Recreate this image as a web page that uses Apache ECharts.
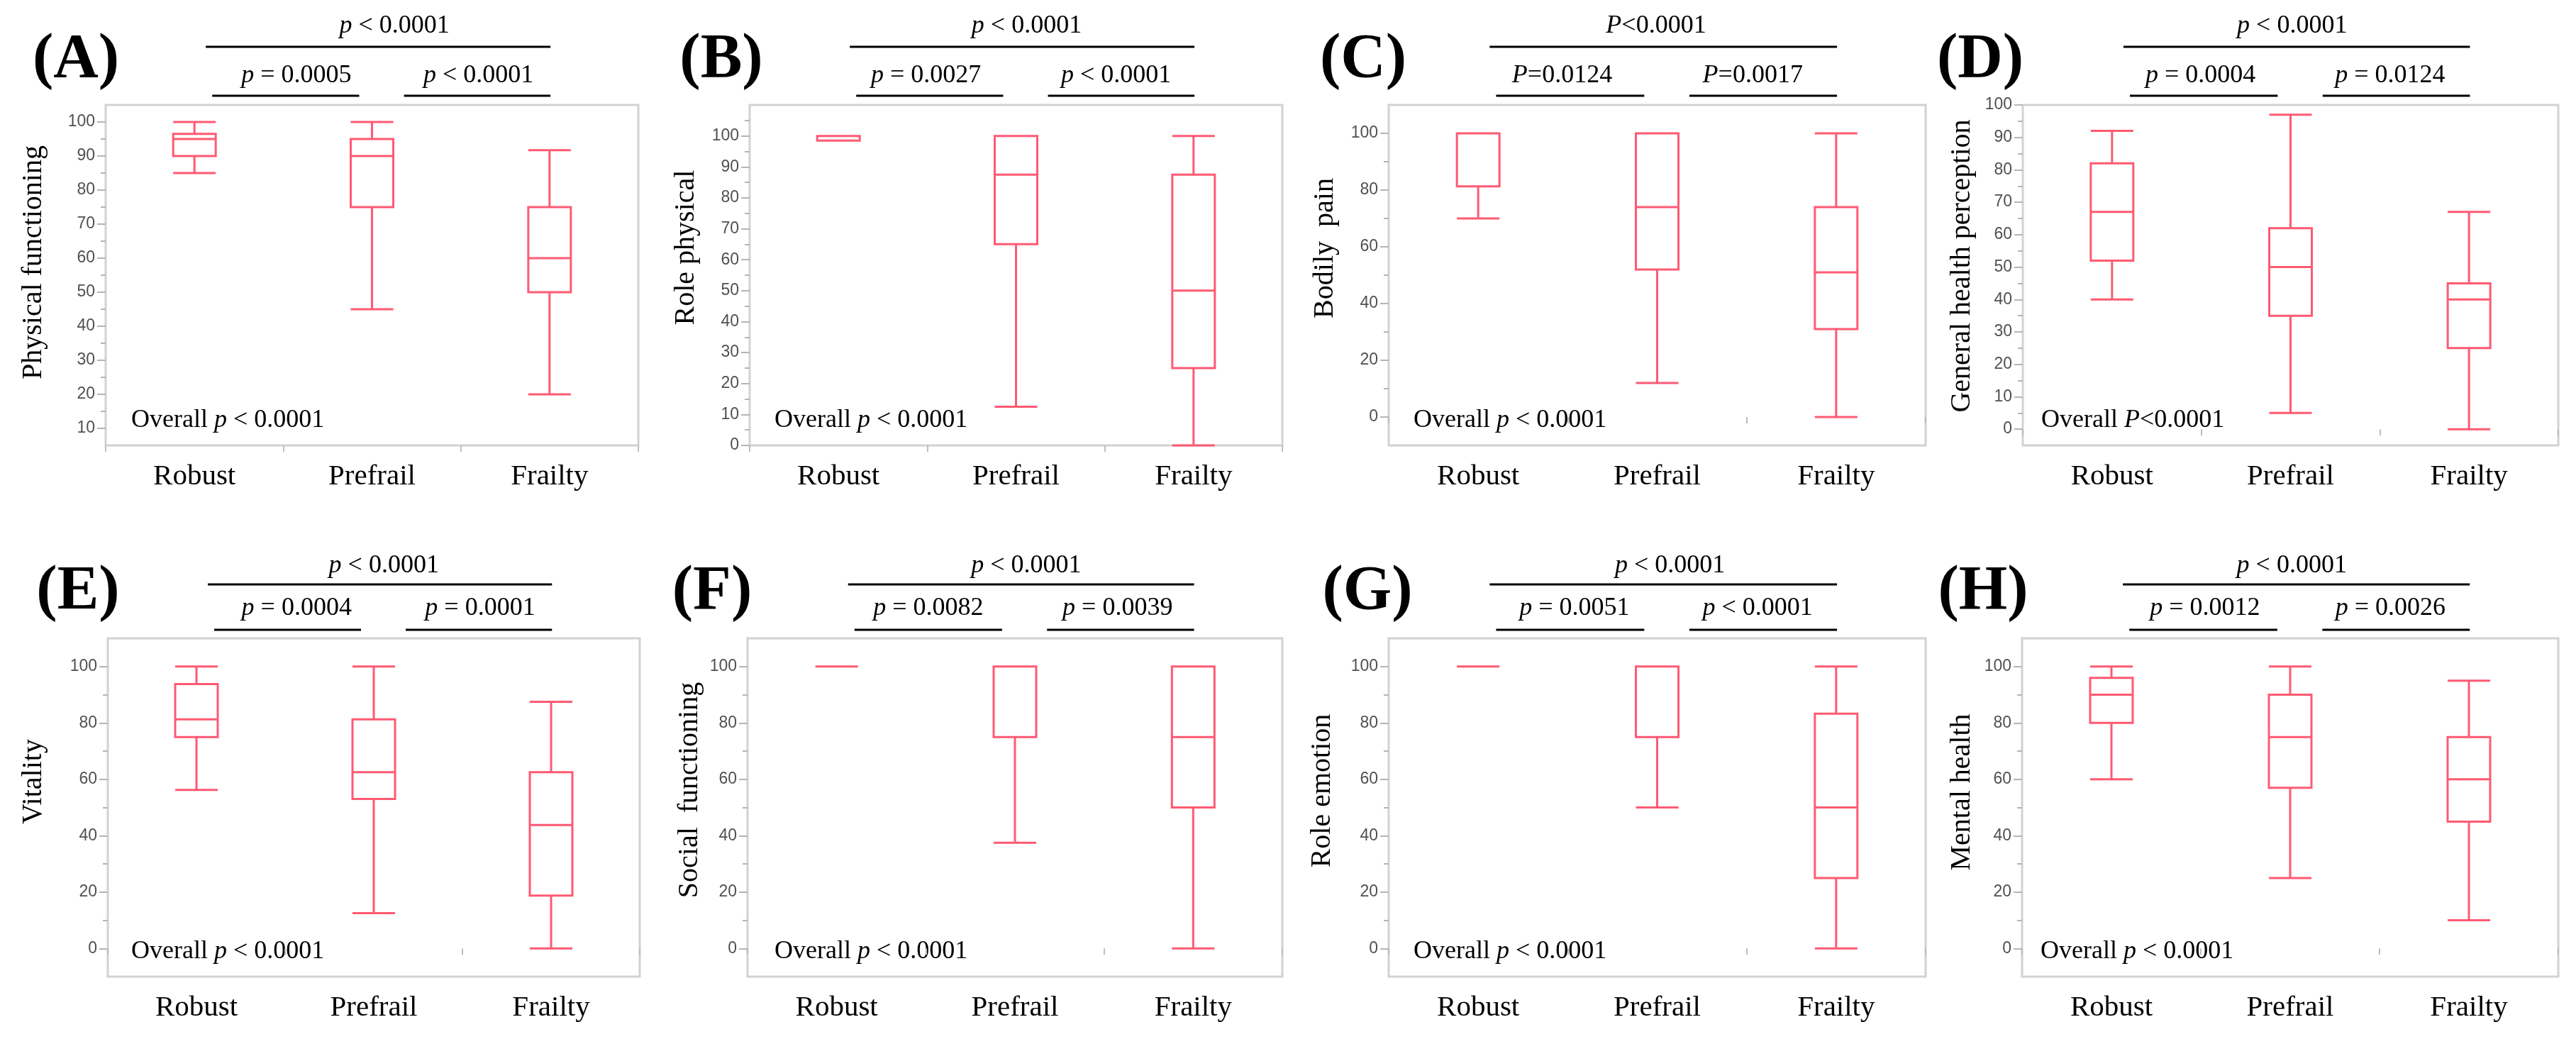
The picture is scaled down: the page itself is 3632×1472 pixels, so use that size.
<!DOCTYPE html>
<html><head><meta charset="utf-8">
<script src="https://cdn.jsdelivr.net/npm/echarts@6/dist/echarts.min.js"></script>
<style>html,body{margin:0;padding:0;background:#fff}#c{width:3632px;height:1472px}</style>
</head><body><div id="c"></div>
<script>
// ---------------- DATA ----------------
const categories = ['Robust', 'Prefrail', 'Frailty'];
// each item: [min, Q1, median, Q3, max]
const physicalFunctioning = [[85, 90, 95, 96.5, 100], [45, 75, 90, 95, 100], [20, 50, 60, 75, 91.7]];
const rolePhysical = [[98.5, 98.5, 100, 100, 100], [12.5, 65, 87.5, 100, 100], [0, 25, 50, 87.5, 100]];
const bodilyPain = [[70, 81.3, 100, 100, 100], [12, 52, 74, 100, 100], [0, 31, 51, 74, 100]];
const generalHealthPerception = [[40, 52, 67, 82, 92], [5, 35, 50, 62, 97], [0, 25, 40, 45, 67]];
const vitality = [[56.25, 75, 81.25, 93.75, 100], [12.5, 53, 62.5, 81.25, 100], [0, 18.75, 43.75, 62.5, 87.5]];
const socialFunctioning = [[100, 100, 100, 100, 100], [37.5, 75, 100, 100, 100], [0, 50, 75, 100, 100]];
const roleEmotion = [[100, 100, 100, 100, 100], [50, 75, 100, 100, 100], [0, 25, 50, 83.3, 100]];
const mentalHealth = [[60, 80, 90, 96, 100], [25, 57, 75, 90, 100], [10, 45, 60, 75, 95]];

const panelLetters = ['(A)', '(B)', '(C)', '(D)', '(E)', '(F)', '(G)', '(H)'];
const yTitles = ['Physical functioning', 'Role physical', 'Bodily  pain', 'General health perception',
                 'Vitality', 'Social  functioning', 'Role emotion', 'Mental health'];
const topP = ['p < 0.0001', 'p < 0.0001', 'P<0.0001', 'p < 0.0001', 'p < 0.0001', 'p < 0.0001', 'p < 0.0001', 'p < 0.0001'];
const robustVsPrefrailP = ['p = 0.0005', 'p = 0.0027', 'P=0.0124', 'p = 0.0004', 'p = 0.0004', 'p = 0.0082', 'p = 0.0051', 'p = 0.0012'];
const prefrailVsFrailtyP = ['p < 0.0001', 'p < 0.0001', 'P=0.0017', 'p = 0.0124', 'p = 0.0001', 'p = 0.0039', 'p < 0.0001', 'p = 0.0026'];
const overallP = ['p < 0.0001', 'p < 0.0001', 'p < 0.0001', 'P<0.0001', 'p < 0.0001', 'p < 0.0001', 'p < 0.0001', 'p < 0.0001'];

// tick labels
const ticksA = [10, 20, 30, 40, 50, 60, 70, 80, 90, 100];
const minorA = [15, 25, 35, 45, 55, 65, 75, 85, 95];
const ticksB = [0, 10, 20, 30, 40, 50, 60, 70, 80, 90, 100];
const minorB = [5, 15, 25, 35, 45, 55, 65, 75, 85, 95, 105];
const ticks20 = [0, 20, 40, 60, 80, 100];
const minor20 = [10, 30, 50, 70, 90];
const ticksD = [0, 10, 20, 30, 40, 50, 60, 70, 80, 90, 100];
const minorD = [5, 15, 25, 35, 45, 55, 65, 75, 85, 95];
const yRanges = [[5, 105], [0, 110], [-10, 110], [-5, 100], [-10, 110], [-10, 110], [-10, 110], [-10, 110]];

const panelData = [physicalFunctioning, rolePhysical, bodilyPain, generalHealthPerception,
                   vitality, socialFunctioning, roleEmotion, mentalHealth];
const panelTicks = [ticksA, ticksB, ticks20, ticksD, ticks20, ticks20, ticks20, ticks20];
const panelMinor = [minorA, minorB, minor20, minorD, minor20, minor20, minor20, minor20];

// ---------------- LAYOUT ----------------
const gridRects = [[149, 148, 751, 480], [1057, 148, 751, 480], [1958, 148, 757, 480], [2852, 148, 755, 480],
                   [152, 900, 750, 477], [1054, 900, 754, 477], [1958, 900, 757, 477], [2851, 900, 756, 477]];
const rowY = [{label: 85, topText: 37, topLine: 66, midText: 107, midLine: 135},
              {label: 835, topText: 798, topLine: 824, midText: 858, midLine: 888}];
const letterX = [107, 1017, 1922, 2792, 110, 1004, 1928, 2796];
const titleXY = [[47, 370], [967, 349], [1868, 350], [2766, 375], [47, 1102], [972, 1114], [1864, 1115], [2766, 1117]];
const topTextFrac = [0.542, 0.52, 0.498, 0.503, 0.519, 0.521, 0.524, 0.503];
const mid1Frac = [0.358, 0.331, 0.323, 0.332, 0.355, 0.338, 0.346, 0.341];
const mid2Frac = [0.70, 0.688, 0.678, 0.686, 0.70, 0.692, 0.687, 0.687];
const overallOff = [36, 35, 35, 26, 33, 38, 35, 26];

const SERIF = '"Liberation Serif", "Times New Roman", serif';
const SANS = '"Liberation Sans", Arial, sans-serif';
const BOX_COLOR = '#ff5a72';

function pText(str, x, y, size, align) {
  const first = str.charAt(0);
  const rest = str.slice(1);
  return {
    type: 'text', x: x, y: y, silent: true,
    style: {
      text: '{i|' + first + '}{n|' + rest + '}',
      align: align || 'center', verticalAlign: 'middle',
      textAlign: align || 'center', textVerticalAlign: 'middle',
      fill: '#000', fontFamily: SERIF, fontSize: size,
      rich: {
        i: {fontStyle: 'italic', fontFamily: SERIF, fontSize: size, fill: '#000', color: '#000'},
        n: {fontFamily: SERIF, fontSize: size, fill: '#000', color: '#000'}
      }
    }
  };
}
function hLine(x1, x2, y) {
  return {type: 'line', silent: true, shape: {x1: x1, y1: y, x2: x2, y2: y}, style: {stroke: '#000', lineWidth: 3}};
}

const grids = [], xAxes = [], yAxes = [], series = [], graphics = [];
gridRects.forEach(function (r, i) {
  const row = rowY[i < 4 ? 0 : 1];
  const L = r[0], T = r[1], W = r[2], H = r[3];
  grids.push({left: L, top: T, width: W, height: H, show: true, borderColor: '#d2d2d2', borderWidth: 3,
              backgroundColor: '#fff', containLabel: false, outerBoundsMode: 'none'});
  xAxes.push({type: 'category', gridIndex: i, data: categories,
    axisLine: {show: false}, splitLine: {show: false},
    axisTick: {show: true, length: 9, alignWithLabel: false, lineStyle: {color: '#bdbdbd', width: 2}},
    axisLabel: {margin: 24, fontFamily: SERIF, fontSize: 41, color: '#000'}});
  yAxes.push({type: 'value', gridIndex: i, min: yRanges[i][0], max: yRanges[i][1], position: 'left',
    axisLine: {show: false}, splitLine: {show: false},
    axisTick: {show: true, length: 12, customValues: panelTicks[i], lineStyle: {color: '#b5b5b5', width: 2}},
    axisLabel: {customValues: panelTicks[i], margin: 15, fontFamily: SANS, fontSize: 23, color: '#505050',
                showMinLabel: true, showMaxLabel: true}});
  yAxes.push({type: 'value', gridIndex: i, min: yRanges[i][0], max: yRanges[i][1], position: 'left',
    axisLine: {show: false}, splitLine: {show: false}, axisLabel: {show: false},
    axisTick: {show: true, length: 7, customValues: panelMinor[i], lineStyle: {color: '#b5b5b5', width: 2}}});
  series.push({type: 'boxplot', xAxisIndex: i, yAxisIndex: 2 * i, data: panelData[i], silent: true,
    boxWidth: [60, 60],
    itemStyle: {color: 'rgba(255,255,255,0)', borderColor: BOX_COLOR, borderWidth: 3},
    emphasis: {disabled: true}});

  // panel letter
  graphics.push({type: 'text', x: letterX[i], y: row.label, silent: true,
    style: {text: panelLetters[i], align: 'center', verticalAlign: 'middle', textAlign: 'center', textVerticalAlign: 'middle',
            fill: '#000', fontFamily: SERIF, fontWeight: 'bold', fontSize: 88}});
  // y title
  graphics.push({type: 'text', x: titleXY[i][0], y: titleXY[i][1], rotation: Math.PI / 2, silent: true,
    style: {text: yTitles[i], align: 'center', verticalAlign: 'middle', textAlign: 'center', textVerticalAlign: 'middle',
            fill: '#000', fontFamily: SERIF, fontSize: 40}});
  // brackets
  graphics.push(hLine(L + 0.188 * W, L + 0.835 * W, row.topLine));
  graphics.push(hLine(L + 0.200 * W, L + 0.476 * W, row.midLine));
  graphics.push(hLine(L + 0.560 * W, L + 0.835 * W, row.midLine));
  graphics.push(pText(topP[i], L + topTextFrac[i] * W, row.topText, 36));
  graphics.push(pText(robustVsPrefrailP[i], L + mid1Frac[i] * W, row.midText, 36));
  graphics.push(pText(prefrailVsFrailtyP[i], L + mid2Frac[i] * W, row.midText, 36));
  // overall p
  const ov = overallP[i];
  graphics.push({type: 'text', x: L + overallOff[i], y: T + H - 35, silent: true,
    style: {text: '{n|Overall }{i|' + ov.charAt(0) + '}{n|' + ov.slice(1) + '}',
            align: 'left', verticalAlign: 'middle', textAlign: 'left', textVerticalAlign: 'middle',
            fill: '#000', fontFamily: SERIF, fontSize: 36,
            rich: {i: {fontStyle: 'italic', fontFamily: SERIF, fontSize: 36, fill: '#000', color: '#000'},
                   n: {fontFamily: SERIF, fontSize: 36, fill: '#000', color: '#000'}}}});
});

const chart = echarts.init(document.getElementById('c'), null, {renderer: 'canvas', width: 3632, height: 1472});
chart.setOption({
  animation: false,
  backgroundColor: '#fff',
  grid: grids, xAxis: xAxes, yAxis: yAxes, series: series,
  graphic: {elements: graphics}
});
</script>
</body></html>
